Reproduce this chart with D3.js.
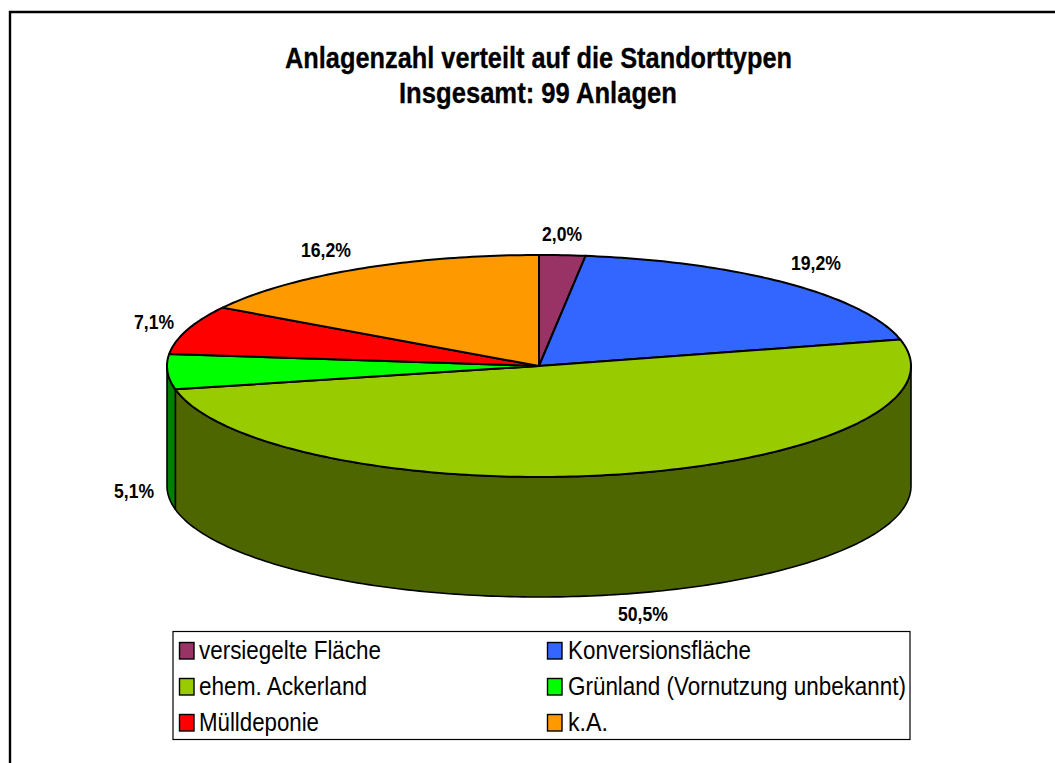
<!DOCTYPE html>
<html><head><meta charset="utf-8">
<script src="https://cdn.jsdelivr.net/npm/d3@7"></script>
<style>html,body{margin:0;padding:0;background:#fff}svg{display:block}text{font-family:"Liberation Sans",Arial,sans-serif;fill:#000}</style>
</head><body><svg id="c" width="1055" height="763"></svg>
<script>
const categories=["versiegelte Fläche","Konversionsfläche","ehem. Ackerland","Grünland (Vornutzung unbekannt)","Mülldeponie","k.A."];
const values=[2.0,19.2,50.5,5.1,7.1,16.2];
const valueLabels=["2,0%","19,2%","50,5%","5,1%","7,1%","16,2%"];
const titleLines=["Anlagenzahl verteilt auf die Standorttypen","Insgesamt: 99 Anlagen"];
const colors=["#993366","#3366FF","#99CC00","#00FF00","#FF0000","#FF9900"];
const sideColors=["#4D1A33","#1A3380","#4D6600","#008000","#800000","#804D00"];

const svg=d3.select("#c");
const cx=539,cy=366,rx=372,ry=111,depth=120;
const X=d3.scaleLinear().domain([-1,1]).range([cx-rx,cx+rx]);
const Y=d3.scaleLinear().domain([-1,1]).range([cy-ry,cy+ry]);
const line=d3.line().x(d=>d[0]).y(d=>d[1]);
const pt=(a,dy=0)=>[X(Math.sin(a)),Y(-Math.cos(a))+dy];
const arcPts=(a0,a1,dy=0)=>{const n=Math.max(2,Math.ceil(Math.abs(a1-a0)*60));
  return d3.range(n+1).map(i=>pt(a0+(a1-a0)*i/n,dy));};

const arcs=d3.pie().sort(null).value(d=>d)(values);

svg.append("path").attr("d","M10,763V12H1055").attr("fill","none").attr("stroke","#000").attr("stroke-width",2.4);

// visible outer wall: front half of the ellipse
const h0=Math.PI/2,h1=3*Math.PI/2;
arcs.forEach((d,i)=>{
  const a0=Math.max(d.startAngle,h0),a1=Math.min(d.endAngle,h1);
  if(a1<=a0)return;
  const pts=[...arcPts(a0,a1),...arcPts(a1,a0,depth)];
  svg.append("path").attr("d",line(pts)+"Z").attr("fill",sideColors[i]).attr("stroke","#000").attr("stroke-width",1.6).attr("stroke-linejoin","round");
});
// top face
arcs.forEach((d,i)=>{
  const pts=[[cx,cy],...arcPts(d.startAngle,d.endAngle)];
  svg.append("path").attr("d",line(pts)+"Z").attr("fill",colors[i]).attr("stroke","#000").attr("stroke-width",2).attr("stroke-linejoin","round");
});

function squeezed(sel,w){sel.attr("textLength",w).attr("lengthAdjust","spacingAndGlyphs");return sel;}

// title
const titleBase=[68,103],titleW=[507,278],titleX=[538.5,538];
titleLines.forEach((t,i)=>{
  squeezed(svg.append("text").attr("x",titleX[i]).attr("y",titleBase[i]).attr("text-anchor","middle").attr("font-size",30).attr("font-weight","bold").attr("stroke","#000").attr("stroke-width",0.3).text(t),titleW[i]);
});

// data labels
const labelPos=[[562,241],[816,270],[643,621],[134,498],[154,329],[326,257]];
valueLabels.forEach((t,i)=>{
  squeezed(svg.append("text").attr("x",labelPos[i][0]).attr("y",labelPos[i][1]).attr("text-anchor","middle").attr("font-size",20).attr("font-weight","bold").text(t),t.length==4?40:50);
});

// legend
svg.append("rect").attr("x",173).attr("y",631.5).attr("width",737).attr("height",108).attr("fill","#fff").attr("stroke","#000").attr("stroke-width",1.2);
const colX=[179.5,547.5],rowY=[642.5,678.5,714.5];
const legW=[182,183,168,338,120,40];
categories.forEach((c,i)=>{
  const col=i%2,row=(i-col)/2;
  svg.append("rect").attr("x",colX[col]).attr("y",rowY[row]).attr("width",14.5).attr("height",16.5).attr("fill",colors[i]).attr("stroke","#000").attr("stroke-width",1.4);
  squeezed(svg.append("text").attr("x",colX[col]+(col?20.5:19.5)).attr("y",rowY[row]+16).attr("font-size",25.5).text(c),legW[i]);
});
</script></body></html>
